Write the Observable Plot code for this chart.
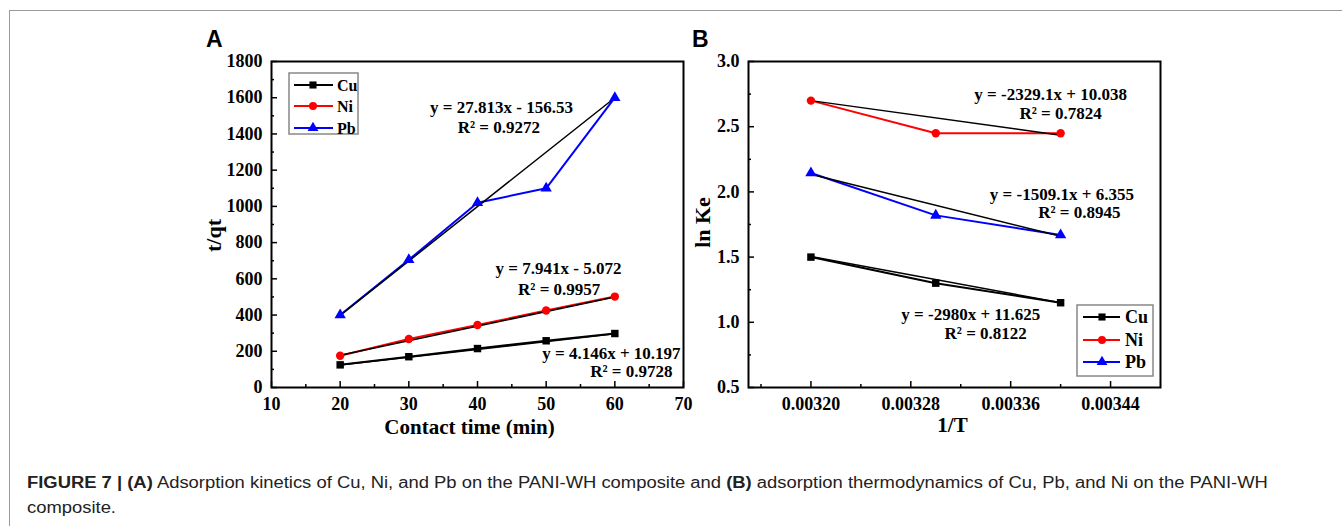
<!DOCTYPE html>
<html><head><meta charset="utf-8">
<script src="https://cdn.jsdelivr.net/npm/d3@7"></script>
<script src="https://cdn.jsdelivr.net/npm/@observablehq/plot@0.6"></script>
<style>
body{margin:0;background:#fff;}
#wrap{position:relative;width:1342px;height:526px;overflow:hidden;background:#fff;}
.abs{position:absolute;}
#btop{left:9px;top:10px;width:1333px;height:0;border-top:1.5px solid #9a9a9a;}
#bleft{left:9px;top:10px;width:0;height:516px;border-left:1.5px solid #9a9a9a;}
#caption{left:27px;top:470px;font:16px/25px "Liberation Sans",Arial,sans-serif;color:#222;white-space:nowrap;transform:scaleX(1.15);transform-origin:0 0;}
#caption b{font-weight:bold;}
#plotA{left:190px;top:20px;}
#plotB{left:690px;top:20px;}
#overlay{left:0;top:0;pointer-events:none;}
</style></head><body>
<div id="wrap">
  <div id="btop" class="abs"></div>
  <div id="bleft" class="abs"></div>
  <div id="plotA" class="abs"></div>
  <div id="plotB" class="abs"></div>
  <svg id="overlay" class="abs" width="1342" height="526"></svg>
  <div id="caption" class="abs"><b>FIGURE 7 | (A)</b> Adsorption kinetics of Cu, Ni, and Pb on the PANI-WH composite and <b>(B)</b> adsorption thermodynamics of Cu, Pb, and Ni on the PANI-WH<br>composite.</div>
</div>
<script>
// ---------- data ----------
const metals = ["Cu", "Ni", "Pb"];
const metalColors = ["#000000", "#ff0000", "#0000ff"];
const metalSymbols = ["square", "circle", "triangle"];

// Panel A: kinetics
const contactTime = [20, 30, 40, 50, 60];
const cuTq = [125, 170, 215, 258, 298];
const niTq = [175, 268, 345, 425, 502];
const pbTq = [400, 705, 1020, 1100, 1600];
// fitted lines (read at t = 20 and t = 60)
const fitTimeEnds = [20, 60];
const cuFitA = [124, 297];
const niFitA = [178, 500];
const pbFitA = [398, 1600];
const eqTextA = ["y = 4.146x + 10.197", "y = 7.941x - 5.072", "y = 27.813x - 156.53"];
const r2TextA = ["R² = 0.9728", "R² = 0.9957", "R² = 0.9272"];
const xTicksA = [10, 20, 30, 40, 50, 60, 70];
const xMinorA = [15, 25, 35, 45, 55, 65];
const yTicksA = [0, 200, 400, 600, 800, 1000, 1200, 1400, 1600, 1800];
const yMinorA = [100, 300, 500, 700, 900, 1100, 1300, 1500, 1700];

// Panel B: thermodynamics
const invT = [0.00320, 0.00330, 0.00340];
const cuLnK = [1.50, 1.30, 1.15];
const niLnK = [2.70, 2.45, 2.45];
const pbLnK = [2.145, 1.82, 1.67];
const fitInvTEnds = [0.00320, 0.00340];
const cuFitB = [1.505, 1.15];
const niFitB = [2.70, 2.435];
const pbFitB = [2.135, 1.66];
const eqTextB = ["y = -2980x + 11.625", "y = -2329.1x + 10.038", "y = -1509.1x + 6.355"];
const r2TextB = ["R² = 0.8122", "R² = 0.7824", "R² = 0.8945"];
const xTicksB = [0.00320, 0.00328, 0.00336, 0.00344];
const xMinorB = [0.00316, 0.00324, 0.00332, 0.00340];
const yTicksB = [0.5, 1.0, 1.5, 2.0, 2.5, 3.0];
const yMinorB = [0.75, 1.25, 1.75, 2.25, 2.75];

// annotation anchors (data units), separate from data
const eqPosA = [[59.5, 186], [51.8, 656], [43.5, 1546]];
const r2PosA = [[62.4, 87], [51.9, 540], [43.1, 1435]];
const eqPosB = [[0.003328, 1.058], [0.003392, 2.747], [0.003401, 1.979]];
const r2PosB = [[0.003340, 0.912], [0.003400, 2.601], [0.003415, 1.841]];

// ---------- build tables ----------
const seriesA = [cuTq, niTq, pbTq];
const fitsA = [cuFitA, niFitA, pbFitA];
const seriesB = [cuLnK, niLnK, pbLnK];
const fitsB = [cuFitB, niFitB, pbFitB];

const kin = metals.flatMap((m, i) => contactTime.map((t, j) => ({metal: m, x: t, y: seriesA[i][j]})));
const kinFit = metals.flatMap((m, i) => fitTimeEnds.map((t, j) => ({metal: m, x: t, y: fitsA[i][j]})));
const thermo = metals.flatMap((m, i) => invT.map((t, j) => ({metal: m, x: t, y: seriesB[i][j]})));
const thermoFit = metals.flatMap((m, i) => fitInvTEnds.map((t, j) => ({metal: m, x: t, y: fitsB[i][j]})));
const annA = metals.flatMap((m, i) => [
  {text: eqTextA[i], x: eqPosA[i][0], y: eqPosA[i][1]},
  {text: r2TextA[i], x: r2PosA[i][0], y: r2PosA[i][1]}]);
const annB = metals.flatMap((m, i) => [
  {text: eqTextB[i], x: eqPosB[i][0], y: eqPosB[i][1]},
  {text: r2TextB[i], x: r2PosB[i][0], y: r2PosB[i][1]}]);

const serif = "'Liberation Serif','Times New Roman',serif";
const blank = () => "";

function panel({data, fit, ann, xDomain, yDomain, xTicks, xMinor, yTicks, yMinor, xFmt, yFmt, xTitle, yTitle,
                width, marginLeft, marginRight, xTitleDx, xTitleDy, yTitleDx, yTitleDy}) {
  return Plot.plot({
    width, height: 420, marginLeft, marginRight, marginTop: 41, marginBottom: 53,
    x: {domain: xDomain, label: null},
    y: {domain: yDomain, label: null},
    color: {domain: metals, range: metalColors},
    symbol: {domain: metals, range: metalSymbols},
    style: {fontFamily: serif, color: "black", background: "transparent", overflow: "visible"},
    marks: [
      Plot.axisX({ticks: xMinor, tickSize: -3, tickFormat: blank, label: null, strokeWidth: 1.5}),
      Plot.axisX({ticks: xTicks, tickSize: -6, tickFormat: blank, label: null, strokeWidth: 1.5}),
      Plot.axisX({ticks: xTicks, tickSize: 0, tickPadding: 10, tickFormat: xFmt, label: null, fontSize: 18, fontWeight: "bold"}),
      Plot.axisY({ticks: yMinor, tickSize: -3, tickFormat: blank, label: null, strokeWidth: 1.5}),
      Plot.axisY({ticks: yTicks, tickSize: -6, tickFormat: blank, label: null, strokeWidth: 1.5}),
      Plot.axisY({ticks: yTicks, tickSize: 0, tickPadding: 9, tickFormat: yFmt, label: null, fontSize: 18, fontWeight: "bold"}),
      Plot.line(data, {x: "x", y: "y", z: "metal", stroke: "metal", strokeWidth: 2}),
      Plot.line(fit, {x: "x", y: "y", z: "metal", stroke: "black", strokeWidth: 1.5}),
      Plot.dot(data, {x: "x", y: "y", symbol: "metal", fill: "metal", r: 4.2}),
      Plot.text(ann, {x: "x", y: "y", text: "text", fontSize: 17, fontWeight: "bold", fill: "black"}),
      Plot.frame({stroke: "black", strokeWidth: 2}),
      Plot.text([xTitle], {frameAnchor: "bottom", textAnchor: "middle", lineAnchor: "middle", dx: xTitleDx, dy: xTitleDy, fontSize: 21, fontWeight: "bold", fill: "black"}),
      Plot.text([yTitle], {frameAnchor: "left", textAnchor: "middle", lineAnchor: "middle", rotate: -90, dx: yTitleDx, dy: yTitleDy, fontSize: 22, fontWeight: "bold", fill: "black"})
    ]
  });
}

document.getElementById("plotA").append(panel({
  data: kin, fit: kinFit, ann: annA, xDomain: [10, 70], yDomain: [0, 1800],
  xTicks: xTicksA, xMinor: xMinorA, yTicks: yTicksA, yMinor: yMinorA,
  xFmt: d3.format("d"), yFmt: d3.format("d"),
  xTitle: "Contact time (min)", yTitle: "t/qt",
  width: 520, marginLeft: 81, marginRight: 27, xTitleDx: -8, xTitleDy: 40, yTitleDx: -58, yTitleDy: 11
}));
document.getElementById("plotB").append(panel({
  data: thermo, fit: thermoFit, ann: annB, xDomain: [0.00315, 0.00348], yDomain: [0.5, 3.0],
  xTicks: xTicksB, xMinor: xMinorB, yTicks: yTicksB, yMinor: yMinorB,
  xFmt: d3.format(".5f"), yFmt: d3.format(".1f"),
  xTitle: "1/T", yTitle: "ln Ke",
  width: 500, marginLeft: 58, marginRight: 30, xTitleDx: -2, xTitleDy: 38, yTitleDx: -46, yTitleDy: -2
}));

// ---------- overlay: panel letters and legends ----------
const ov = d3.select("#overlay");
ov.append("text").attr("x", 206).attr("y", 47).text("A")
  .attr("font-family", "'Liberation Sans',Arial,sans-serif").attr("font-weight", "bold").attr("font-size", 23);
ov.append("text").attr("x", 692).attr("y", 47).text("B")
  .attr("font-family", "'Liberation Sans',Arial,sans-serif").attr("font-weight", "bold").attr("font-size", 23);

const d3Sym = {square: d3.symbolSquare, circle: d3.symbolCircle, triangle: d3.symbolTriangle};
function legend({box, rows, x0, x1, xm, xt, fontSize}) {
  const g = ov.append("g");
  g.append("rect").attr("x", box[0]).attr("y", box[1]).attr("width", box[2]).attr("height", box[3])
    .attr("fill", "white").attr("stroke", "#888").attr("stroke-width", 1.5);
  metals.forEach((m, i) => {
    const y = rows[i];
    g.append("line").attr("x1", x0).attr("x2", x1).attr("y1", y).attr("y2", y)
      .attr("stroke", metalColors[i]).attr("stroke-width", 2);
    g.append("path").attr("transform", `translate(${xm},${y})`)
      .attr("d", d3.symbol(d3Sym[metalSymbols[i]], Math.PI * 16)()).attr("fill", metalColors[i]);
    g.append("text").attr("x", xt).attr("y", y).attr("dy", "0.35em").text(m)
      .attr("font-family", serif).attr("font-weight", "bold").attr("font-size", fontSize);
  });
}
legend({box: [289, 73, 69, 61], rows: [85, 106, 128], x0: 294, x1: 333, xm: 313, xt: 337, fontSize: 16});
legend({box: [1077, 305, 76, 71], rows: [317, 340, 362], x0: 1083, x1: 1120, xm: 1102, xt: 1125, fontSize: 18});
</script>
</body></html>
